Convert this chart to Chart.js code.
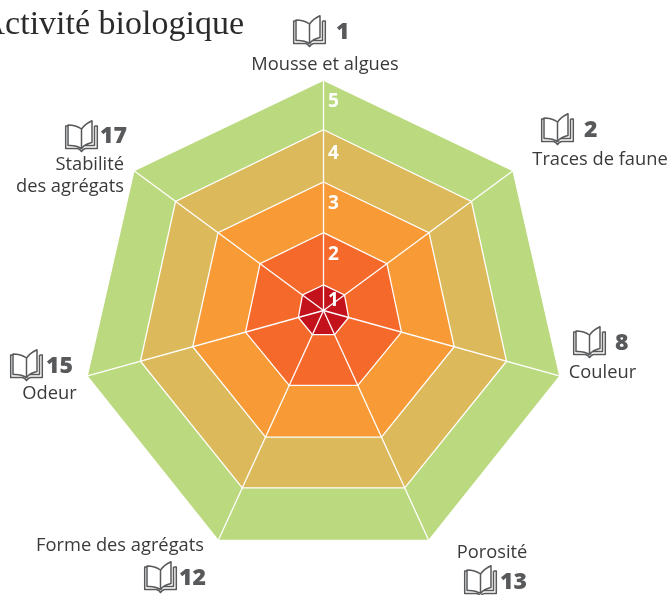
<!DOCTYPE html>
<html lang="fr">
<head>
<meta charset="utf-8">
<title>Activité biologique</title>
<script src="https://cdn.jsdelivr.net/npm/chart.js@4/dist/chart.umd.min.js"></script>
<style>
  html, body { margin: 0; padding: 0; background: #fff; overflow: hidden; }
  #wrap { width: 670px; height: 595px; }
</style>
</head>
<body>
<div id="wrap"><canvas id="chart" width="670" height="595"></canvas></div>
<script>
// Data
const categories = ['Mousse et algues', 'Traces de faune', 'Couleur', 'Porosité', 'Forme des agrégats', 'Odeur', ['Stabilité', 'des agrégats']];
const bookRefs = ['1', '2', '8', '13', '12', '15', '17'];
const tickLabels = ['', '1', '2', '3', '4', '5'];
const tickValues = [0.5, 0.7, 1.59, 2.58, 3.57, 4.58];
const axisAngles = [0, 53.6, 105.5, 155.4, 204.6, 254.5, 306.4];

const level1 = [1.0, 1.01, 1.01, 1.02, 1.02, 1.01, 1.01];
const level2 = [2.02, 2.04, 2.08, 2.11, 2.11, 2.08, 2.04];
const level3 = [3.01, 3.06, 3.15, 3.22, 3.22, 3.15, 3.06];
const level4 = [4.03, 4.09, 4.21, 4.31, 4.31, 4.21, 4.09];
const level5 = [5.0, 5.1, 5.29, 5.44, 5.44, 5.29, 5.1];

// Where the icon, number and caption of each axis sit
const labelSpots = [
  { icon: [293, 15], num: [336, 32], text: [325, 65], align: 'center' },
  { icon: [541, 113], num: [584, 130], text: [600, 160], align: 'center' },
  { icon: [573, 326], num: [615, 343], text: [602.5, 373], align: 'center' },
  { icon: [464, 565], num: [500, 582], text: [492, 553], align: 'center' },
  { icon: [144, 561], num: [179, 578], text: [120, 546], align: 'center' },
  { icon: [10, 349], num: [46, 366], text: [49.5, 394], align: 'center' },
  { icon: [65, 120], num: [100, 136], text: [124, 165], align: 'right' },
];

function drawBook(ctx, x, y) {
  ctx.save();
  ctx.translate(x, y);
  ctx.strokeStyle = '#58595b';
  ctx.lineWidth = 1.5;
  ctx.lineJoin = 'round';
  ctx.stroke(new Path2D('M3 6H.7V28.5H12.5Q15 29 16.5 31.5Q18 29 20.5 28.5H32.3V6H29.5'));
  ctx.stroke(new Path2D('M3 5V25.5Q11 25 16.5 28.5V9Q11 5 3 5Z'));
  ctx.stroke(new Path2D('M16.5 9Q20 4 27 .7V22.5Q20 24 16.5 28.5'));
  ctx.stroke(new Path2D('M29.5 6V25.5H20'));
  ctx.restore();
}

const labelPlugin = {
  id: 'bookLabels',
  afterDraw(chart) {
    const ctx = chart.ctx;
    ctx.save();
    // title runs off the left edge in the original
    ctx.fillStyle = '#2b2a2c';
    ctx.font = '34px "Liberation Serif"';
    ctx.textAlign = 'right';
    ctx.textBaseline = 'alphabetic';
    ctx.fillText('Activité biologique', 244, 34);

    labelSpots.forEach((spot, i) => {
      drawBook(ctx, spot.icon[0], spot.icon[1]);

      ctx.fillStyle = '#58595b';
      ctx.font = '800 23px "Open Sans"';
      ctx.textAlign = 'left';
      ctx.textBaseline = 'middle';
      ctx.fillText(bookRefs[i], spot.num[0], spot.num[1]);

      ctx.fillStyle = '#3a3a3c';
      ctx.font = '18.3px "Open Sans"';
      ctx.textAlign = spot.align;
      [].concat(categories[i]).forEach((line, n) => {
        ctx.fillText(line, spot.text[0], spot.text[1] + n * 22);
      });
    });
    ctx.restore();
  },
};

function band(data, color) {
  return { data, backgroundColor: color, borderColor: '#fff', borderWidth: 1.3, fill: true, pointRadius: 0, tension: 0 };
}

new Chart(document.getElementById('chart'), {
  type: 'radar',
  data: {
    labels: categories,
    datasets: [
      band(level1, '#c4121d'),
      band(level2, '#f5692b'),
      band(level3, '#f89a36'),
      band(level4, '#dcb95a'),
      band(level5, '#bbd97e'),
    ],
  },
  options: {
    responsive: false,
    animation: false,
    layout: { padding: { left: 50, right: 73, top: 45, bottom: 19 } },
    plugins: { legend: { display: false }, tooltip: { enabled: false } },
    scales: {
      r: {
        min: 0.5,
        max: 5.5,
        // the sheet's axes are not evenly spread, so use the measured ones
        afterDataLimits: (scale) => {
          scale.getIndexAngle = (i) => (axisAngles[i] * Math.PI) / 180;
        },
        afterBuildTicks: (scale) => {
          scale.ticks = tickValues.map((value) => ({ value }));
        },
        // the scale floors its centre, the original sits on the half pixel
        afterFit: (scale) => {
          scale.xCenter += 0.5;
          scale.yCenter += 0.5;
        },
        grid: { display: false, z: 1 },
        angleLines: { display: true, color: '#fff', lineWidth: 1.3 },
        pointLabels: { display: false },
        ticks: {
          z: 2,
          showLabelBackdrop: false,
          backdropPadding: 0,
          color: '#fff',
          font: { family: '"Open Sans"', size: 19, weight: 'bold' },
          callback: (value, i) => '\u00a0\u00a0\u00a0\u00a0' + tickLabels[i],
        },
      },
    },
  },
  plugins: [labelPlugin],
});
</script>
</body>
</html>
